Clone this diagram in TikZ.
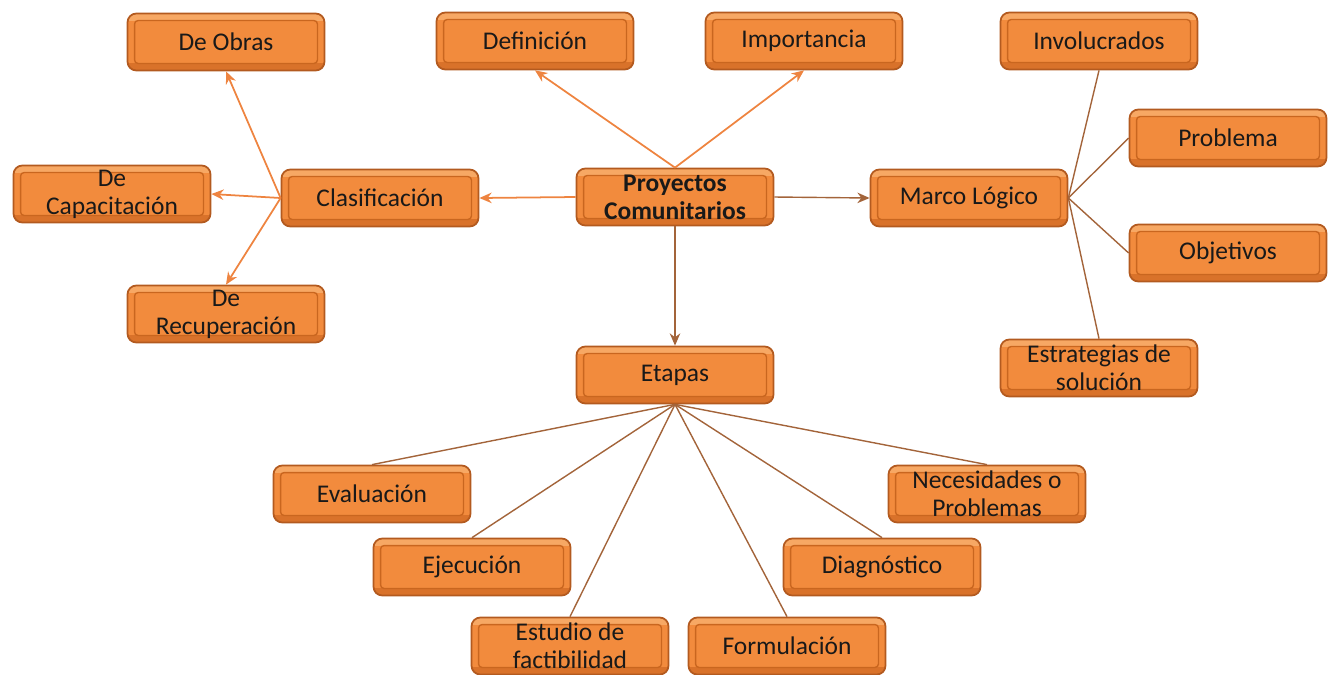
\documentclass[tikz,border=0pt]{standalone}
\usepackage{fontspec}
\setmainfont{Carlito}
\usetikzlibrary{arrows.meta}
\definecolor{boxorange}{HTML}{F28B3D}
\definecolor{boxedge}{HTML}{B35A1F}
\definecolor{boxinner}{HTML}{C9661F}
\definecolor{boxlight}{HTML}{F7A864}
\definecolor{boxdark}{HTML}{D9722A}
\definecolor{lineorange}{HTML}{EE8440}
\definecolor{linebrown}{HTML}{A3643A}
\tikzset{
  >={Stealth[length=7pt,width=6pt]},
  topic/.style={draw=boxedge, fill=boxorange, line width=1pt, rounded corners=5pt,
    minimum width=3.94cm, minimum height=1.14cm, align=center, inner sep=1pt,
    font=\fontsize{14.5}{16}\selectfont, text=black!90,
    path picture={
      \fill[boxlight, sharp corners] (path picture bounding box.north west) rectangle ([yshift=-4pt]path picture bounding box.north east);
      \fill[boxdark, sharp corners] (path picture bounding box.south west) rectangle ([yshift=4pt]path picture bounding box.south east);
      \draw[boxinner, line width=0.8pt, rounded corners=2pt]
        ([xshift=4pt,yshift=4pt]path picture bounding box.south west) rectangle
        ([xshift=-4pt,yshift=-4pt]path picture bounding box.north east);}},
  lead/.style={->, lineorange, line width=1pt},
  twig/.style={linebrown, line width=0.8pt}
}
\begin{document}
\begin{tikzpicture}[x=0.02cm, y=-0.02cm]
  \useasboundingbox (0,0) rectangle (1331,674);
  \node[topic, font=\fontsize{14.5}{16}\selectfont\bfseries] (proy) at (675,197) {Proyectos\\Comunitarios};
  \node[topic] (defi) at (535,41) {Definición};
  \node[topic] (impo) at (804,41) {Importancia};
  \node[topic] (clas) at (380,198) {Clasificación};
  \node[topic] (obras) at (226,42) {De Obras};
  \node[topic] (capac) at (112,194) {De\\Capacitación};
  \node[topic] (recup) at (226,314) {De\\Recuperación};
  \node[topic] (marco) at (969,198) {Marco Lógico};
  \node[topic] (invol) at (1099,41) {Involucrados};
  \node[topic] (probl) at (1228,138) {Problema};
  \node[topic] (objet) at (1228,253) {Objetivos};
  \node[topic] (estra) at (1099,368) {Estrategias de\\solución};
  \node[topic] (etapas) at (675,375) {Etapas};
  \node[topic] (evalu) at (372,494) {Evaluación};
  \node[topic] (neces) at (987,494) {Necesidades o\\Problemas};
  \node[topic] (ejecu) at (472,567) {Ejecución};
  \node[topic] (diagn) at (882,567) {Diagnóstico};
  \node[topic] (estud) at (570,646) {Estudio de\\factibilidad};
  \node[topic] (formu) at (787,646) {Formulación};

  \draw[lead] (proy.north) -- (defi.south);
  \draw[lead] (proy.north) -- (impo.south);
  \draw[lead] (proy.west) -- (clas.east);
  \draw[lead] (clas.west) -- (obras.south);
  \draw[lead] (clas.west) -- (capac.east);
  \draw[lead] (clas.west) -- (recup.north);
  \draw[twig, ->] (proy.east) -- (marco.west);
  \draw[twig, ->] (proy.south) -- (etapas.north);
  \draw[twig] (marco.east) -- (invol.south);
  \draw[twig] (marco.east) -- (probl.west);
  \draw[twig] (marco.east) -- (objet.west);
  \draw[twig] (marco.east) -- (estra.north);
  \foreach \n in {evalu, neces, ejecu, diagn, estud, formu}
    \draw[twig] (etapas.south) -- (\n.north);
\end{tikzpicture}
\end{document}
